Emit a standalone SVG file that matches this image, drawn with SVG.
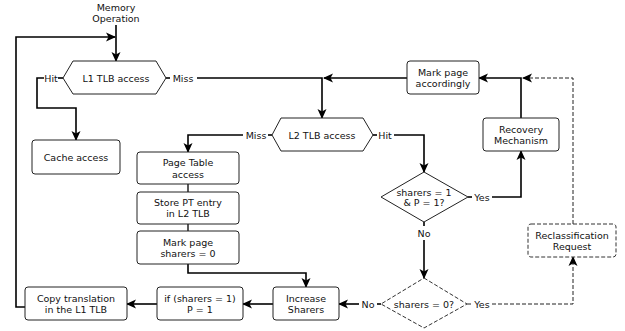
<svg xmlns="http://www.w3.org/2000/svg" width="625" height="331" viewBox="0 0 625 331">
<style>
text{font-family:"DejaVu Sans","Liberation Sans",sans-serif;font-size:9.5px;fill:#111;text-anchor:middle;dominant-baseline:central}
.box{fill:#fff;stroke:#222;stroke-width:1}
.dbox{fill:#fff;stroke:#333;stroke-width:1;stroke-dasharray:4 2}
.e{fill:none;stroke:#000;stroke-width:1.6}
.ed{fill:none;stroke:#222;stroke-width:1;stroke-dasharray:4 2}
.t{fill:none;stroke:#000;stroke-width:1.3}
</style>
<defs>
<marker id="a" markerUnits="userSpaceOnUse" markerWidth="10" markerHeight="10" viewBox="0 0 10 10" refX="9" refY="5" orient="auto">
<path d="M0,0.5 L10,5 L0,9.5 L2.5,5 z" fill="#000"/>
</marker>
</defs>
<rect width="625" height="331" fill="#fff"/>
<g id="connectors">
<path class="e" d="M116,25 V61" marker-end="url(#a)"/>
<path class="e" d="M25,307 H16 V37 H115" marker-end="url(#a)"/>
<path class="e" d="M63,78 H58"/>
<path class="e" d="M44,78 H37 V108 H76 V140" marker-end="url(#a)"/>
<path class="e" d="M166,78 H170"/>
<path class="e" d="M197,78 H322 V118" marker-end="url(#a)"/>
<path class="e" d="M407,78 H324" marker-end="url(#a)"/>
<path class="e" d="M272,135 H268"/>
<path class="e" d="M243,135 H188 V152" marker-end="url(#a)"/>
<path class="e" d="M373,135 H377"/>
<path class="e" d="M394,135 H424 V172" marker-end="url(#a)"/>
<path class="e" d="M468,197 H472"/>
<path class="e" d="M492,197 H521 V151" marker-end="url(#a)"/>
<path class="e" d="M521,118 V78 H479" marker-end="url(#a)"/>
<path class="ed" d="M573,224 V78 H523" marker-end="url(#a)"/>
<path class="e" d="M424,222 V226"/>
<path class="e" d="M424,240 V278" marker-end="url(#a)"/>
<path class="e" d="M381,304 H377"/>
<path class="e" d="M359,304 H339" marker-end="url(#a)"/>
<path class="ed" d="M467,304 H471"/>
<path class="ed" d="M492,304 H573 V257" marker-end="url(#a)"/>
<path class="t" d="M188,184 V192 M188,224 V231"/>
<path class="e" d="M188,264 V273 H306 V287" marker-end="url(#a)"/>
<path class="e" d="M273,304 H243" marker-end="url(#a)"/>
<path class="e" d="M157,304 H127" marker-end="url(#a)"/>
</g>
<g id="labels">
<text x="51" y="78">Hit</text>
<text x="183" y="78">Miss</text>
<text x="256" y="135">Miss</text>
<text x="385" y="135">Hit</text>
<text x="482" y="197">Yes</text>
<text x="424" y="233">No</text>
<text x="368" y="304">No</text>
<text x="482" y="304">Yes</text>
</g>
<g id="memory-operation">
<text x="116" y="7">Memory</text>
<text x="116" y="18">Operation</text>
</g>
<g id="l1-tlb">
<path class="box" d="M63,78 L73,61 H156 L166,78 L156,94 H73 Z"/>
<text x="116" y="78">L1 TLB access</text>
</g>
<g id="cache-access">
<rect class="box" x="32" y="140" width="88" height="34" rx="3"/>
<text x="76" y="157">Cache access</text>
</g>
<g id="l2-tlb">
<path class="box" d="M272,135 L281,118 H363 L373,135 L363,151 H281 Z"/>
<text x="322" y="135">L2 TLB access</text>
</g>
<g id="mark-accordingly">
<rect class="box" x="407" y="61" width="72" height="33" rx="3"/>
<text x="443" y="72">Mark page</text>
<text x="443" y="83">accordingly</text>
</g>
<g id="recovery">
<rect class="box" x="483" y="118" width="76" height="33" rx="3"/>
<text x="521" y="129">Recovery</text>
<text x="521" y="140">Mechanism</text>
</g>
<g id="page-table">
<rect class="box" x="137" y="152" width="102" height="32" rx="3"/>
<text x="188" y="162">Page Table</text>
<text x="188" y="174">access</text>
</g>
<g id="store-pt">
<rect class="box" x="137" y="192" width="102" height="32" rx="3"/>
<text x="188" y="202">Store PT entry</text>
<text x="188" y="213">in L2 TLB</text>
</g>
<g id="mark-sharers">
<rect class="box" x="137" y="231" width="102" height="33" rx="3"/>
<text x="188" y="242">Mark page</text>
<text x="188" y="253">sharers = 0</text>
</g>
<g id="decision1">
<path class="box" d="M424,172 L468,197 L424,222 L381,197 Z"/>
<text x="424" y="192" font-size="9">sharers = 1</text>
<text x="424" y="202" font-size="9">&amp; P = 1?</text>
</g>
<g id="decision2">
<path class="dbox" d="M424,278 L467,304 L424,328 L381,304 Z"/>
<text x="424" y="304" font-size="9">sharers = 0?</text>
</g>
<g id="reclassification">
<rect class="dbox" x="528" y="224" width="88" height="33" rx="3"/>
<text x="572" y="235">Reclassification</text>
<text x="572" y="246">Request</text>
</g>
<g id="increase">
<rect class="box" x="273" y="287" width="66" height="33" rx="3"/>
<text x="306" y="298">Increase</text>
<text x="306" y="309">Sharers</text>
</g>
<g id="if-sharers">
<rect class="box" x="157" y="287" width="86" height="33" rx="3"/>
<text x="200" y="298">if (sharers = 1)</text>
<text x="200" y="309">P = 1</text>
</g>
<g id="copy">
<rect class="box" x="25" y="287" width="102" height="33" rx="3"/>
<text x="76" y="298">Copy translation</text>
<text x="76" y="309">in the L1 TLB</text>
</g>
</svg>
